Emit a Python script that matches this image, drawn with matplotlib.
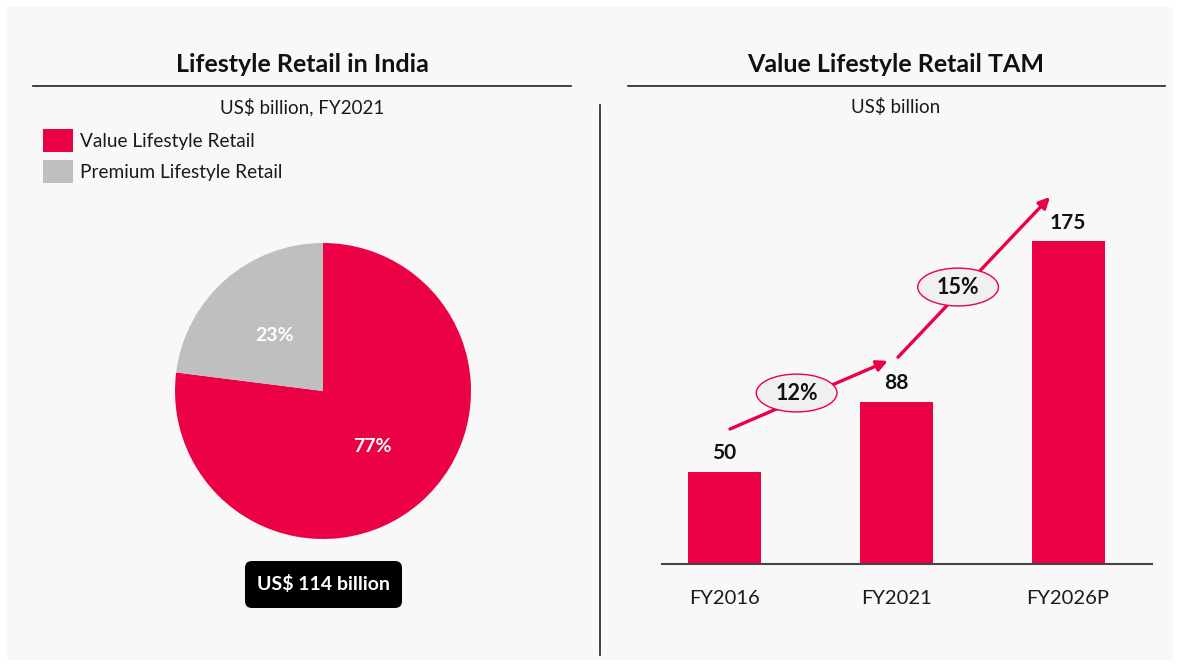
import matplotlib.pyplot as plt
from matplotlib.patches import Rectangle, FancyBboxPatch, Ellipse
from matplotlib.lines import Line2D

plt.rcParams['font.family'] = ['Lato', 'DejaVu Sans']

# data
pie_labels = ["Value Lifestyle Retail", "Premium Lifestyle Retail"]
pie_shares = [77, 23]
pie_total = 114

years = ["FY2016", "FY2021", "FY2026P"]
tam = [50, 88, 175]
cagr = ["12%", "15%"]

RED = "#EB0045"
GREY = "#BFBFBF"
W, H = 1180, 665


def fx(px):
    return px / W


def fy(py):
    return 1 - py / H


fig = plt.figure(figsize=(11.8, 6.65), dpi=100)
fig.patch.set_facecolor("white")

# light panel behind everything
fig.add_artist(Rectangle((fx(7), fy(660)), fx(1166), 653 / H,
                         transform=fig.transFigure, facecolor="#F8F8F8",
                         edgecolor="none", zorder=-10))

# titles and rules
fig.text(fx(302), fy(65), "Lifestyle Retail in India", ha="center", va="center",
         fontsize=18, fontweight="bold", color="#111111")
fig.text(fx(896), fy(65), "Value Lifestyle Retail TAM", ha="center", va="center",
         fontsize=18, fontweight="bold", color="#111111")
fig.add_artist(Line2D([fx(33), fx(571)], [fy(86), fy(86)], color="#222222", lw=1.2))
fig.add_artist(Line2D([fx(628), fx(1165)], [fy(86), fy(86)], color="#222222", lw=1.2))
fig.text(fx(302), fy(107), "US$ billion, FY2021", ha="center", va="center",
         fontsize=13.5, color="#1A1A1A")
fig.text(fx(896), fy(107), "US$ billion", ha="center", va="center",
         fontsize=13.5, color="#1A1A1A")

# vertical divider
fig.add_artist(Line2D([fx(600), fx(600)], [fy(105), fy(655)], color="#222222", lw=1.2))

# legend
for i, (lab, col) in enumerate(zip(pie_labels, [RED, GREY])):
    top = 129 + i * 31
    fig.add_artist(Rectangle((fx(43), fy(top + 23)), fx(30), 23 / H,
                             transform=fig.transFigure, facecolor=col, edgecolor="none"))
    fig.text(fx(80), fy(top + 12), lab, ha="left", va="center",
             fontsize=13.7, color="#1A1A1A")

# pie
ax_pie = fig.add_axes([fx(175), fy(539), fx(296), 296 / H])
wedges, texts, autotexts = ax_pie.pie(
    pie_shares, colors=[RED, GREY], startangle=90, counterclock=False,
    autopct="%d%%", pctdistance=0.5, wedgeprops=dict(linewidth=0))
for t in autotexts:
    t.set_color("white")
    t.set_fontsize(14)
    t.set_fontweight("bold")
ax_pie.set_xlim(-1, 1)
ax_pie.set_ylim(-1, 1)
ax_pie.set_aspect("equal")

# total box
fig.add_artist(FancyBboxPatch((2.45, 0.57), 1.57, 0.47,
                              boxstyle="round,pad=0,rounding_size=0.07",
                              transform=fig.dpi_scale_trans,
                              facecolor="black", edgecolor="none"))
fig.text(fx(323.5), fy(584), f"US$ {pie_total} billion", ha="center", va="center",
         fontsize=14, fontweight="bold", color="white")

# bars
ax = fig.add_axes([fx(662), fy(564), fx(490), 404 / H])
ax.set_facecolor("none")
x = list(range(len(years)))
ax.bar(x, tam, width=0.425, color=RED)
for xi, v in zip(x, tam):
    ax.annotate(str(v), (xi, v), xytext=(0, 6), textcoords="offset points",
                ha="center", va="bottom", fontsize=15, fontweight="bold",
                color="#111111")
ax.set_xlim(-0.364, 2.489)
ax.set_ylim(0, 218.8)
ax.set_xticks(x)
ax.set_xticklabels(years, fontsize=14.5, color="#1A1A1A")
ax.tick_params(axis="x", length=0, pad=19)
ax.set_yticks([])
for s in ["top", "left", "right"]:
    ax.spines[s].set_visible(False)
ax.spines["bottom"].set_color("#444444")
ax.spines["bottom"].set_linewidth(1.5)

# growth arrows with CAGR ellipses
arrows = [((0.032, 73.1), (0.951, 110.0)), ((1.01, 112.0), (1.895, 198.8))]
ell_pos = [(0.42, 92.6), (1.36, 150.0)]
for (start, end), (ex, ey), lab in zip(arrows, ell_pos, cagr):
    ax.annotate("", xy=end, xytext=start,
                arrowprops=dict(arrowstyle="-|>", color=RED, lw=2.4,
                                mutation_scale=16, shrinkA=0, shrinkB=0),
                annotation_clip=False)
    ax.add_patch(Ellipse((ex, ey), 0.47, 20.5, facecolor="#F0F0F0",
                         edgecolor=RED, lw=1.0, zorder=5, clip_on=False))
    ax.text(ex, ey, lab, ha="center", va="center", fontsize=15.5,
            fontweight="bold", color="#111111", zorder=6)

fig.savefig("out.png", dpi=100)
